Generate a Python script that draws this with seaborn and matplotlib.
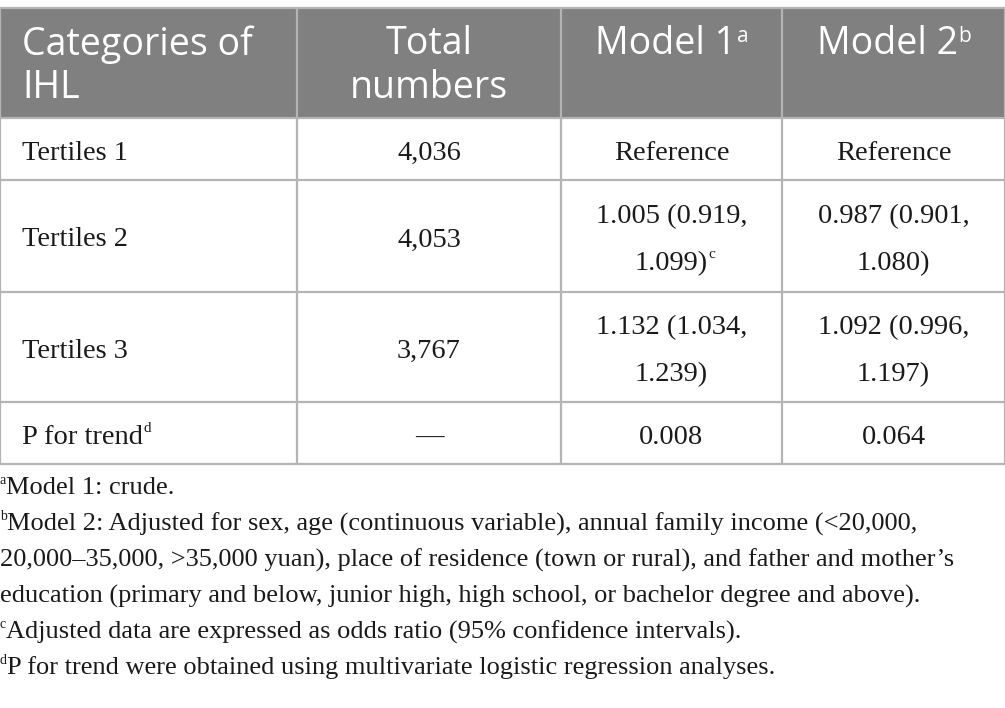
import matplotlib
matplotlib.use("Agg")
import matplotlib.pyplot as plt
import seaborn as sns

# table content
header = ["Categories of\nIHL", "Total\nnumbers", "Model 1", "Model 2"]
header_sup = ["", "", "a", "b"]
categories = ["Tertiles 1", "Tertiles 2", "Tertiles 3", "P for trend"]
category_sup = ["", "", "", "d"]
totals = ["4,036", "4,053", "3,767", "\u2014"]
model1 = ["Reference", "1.005 (0.919,\n1.099)", "1.132 (1.034,\n1.239)", "0.008"]
model1_sup = ["", "c", "", ""]
model2 = ["Reference", "0.987 (0.901,\n1.080)", "1.092 (0.996,\n1.197)", "0.064"]
footnotes = [
    ("a", "Model 1: crude."),
    ("b", "Model 2: Adjusted for sex, age (continuous variable), annual family income (<20,000,"),
    ("", "20,000\u201335,000, >35,000 yuan), place of residence (town or rural), and father and mother\u2019s"),
    ("", "education (primary and below, junior high, high school, or bachelor degree and above)."),
    ("c", "Adjusted data are expressed as odds ratio (95% confidence intervals)."),
    ("d", "P for trend were obtained using multivariate logistic regression analyses."),
]

sns.set_theme(style="white")
plt.rcParams["font.family"] = ["Liberation Serif", "DejaVu Serif"]

col_edges = [0, 297, 561, 782, 1005]
row_edges = [8, 118, 180, 292, 402, 464]
header_gray = "#808080"
grid_gray = "#b4b4b4"
text_col = "#1a1a1a"

fig = plt.figure(figsize=(10.05, 7.08), dpi=100)
ax = fig.add_axes([0, 0, 1, 1])
ax.set_xlim(0, 1005)
ax.set_ylim(708, 0)
ax.axis("off")

ax.add_patch(plt.Rectangle((0, row_edges[0]), 1005, row_edges[1] - row_edges[0],
                           facecolor=header_gray, edgecolor="none"))
for y in row_edges:
    ax.plot([0, 1005], [y, y], color=grid_gray, lw=1.6, solid_capstyle="butt")
for x in col_edges:
    ax.plot([x, x], [row_edges[0], row_edges[-1]], color=grid_gray, lw=1.6,
            solid_capstyle="butt")

renderer = fig.canvas.get_renderer()
inv = ax.transData.inverted()


def put(x, y, s, sup="", ha="center", size=20.5, color=text_col, family=None,
        sup_size=11, sup_dy=-9, gap=47):
    kw = dict(ha=ha, va="center", fontsize=size, color=color)
    if family:
        kw["family"] = family
    lines = s.split("\n")
    y0 = y - gap * (len(lines) - 1) / 2
    t = None
    for k, line in enumerate(lines):
        t = ax.text(x, y0 + k * gap, line, **kw)
    if sup:
        bb = t.get_window_extent(renderer)
        xr, _ = inv.transform((bb.x1, bb.y0))
        skw = dict(ha="left", va="center", fontsize=sup_size, color=color)
        if family:
            skw["family"] = family
        ax.text(xr + 0.5, y0 + (len(lines) - 1) * gap + sup_dy, sup, **skw)


centers = [(col_edges[i] + col_edges[i + 1]) / 2 for i in range(4)]
head_font = ["Open Sans", "DejaVu Sans"]
put(22, 66, header[0], ha="left", size=27, color="white", family=head_font, gap=43)
put(centers[1], 66, header[1], size=27, color="white", family=head_font, gap=43)
put(centers[2] - 6, 44, header[2], sup=header_sup[2], size=27, color="white",
    family=head_font, sup_size=15, sup_dy=-7)
put(centers[3] - 6, 44, header[3], sup=header_sup[3], size=27, color="white",
    family=head_font, sup_size=15, sup_dy=-7)

for i in range(4):
    yc = (row_edges[i + 1] + row_edges[i + 2]) / 2 + 4
    put(22, yc, categories[i], sup=category_sup[i], ha="left")
    put(centers[1], yc, totals[i])
    put(centers[2], yc, model1[i], sup=model1_sup[i])
    put(centers[3], yc, model2[i])

fy = 488
for mark, line in footnotes:
    x0 = 0
    if mark:
        m = ax.text(0, fy - 8, mark, ha="left", va="center", fontsize=10, color=text_col)
        bb = m.get_window_extent(renderer)
        x0 = (bb.x1 - bb.x0)
    ax.text(x0, fy, line, ha="left", va="center", fontsize=19, color=text_col)
    fy += 36

fig.savefig("out.png", dpi=100, facecolor="white")
